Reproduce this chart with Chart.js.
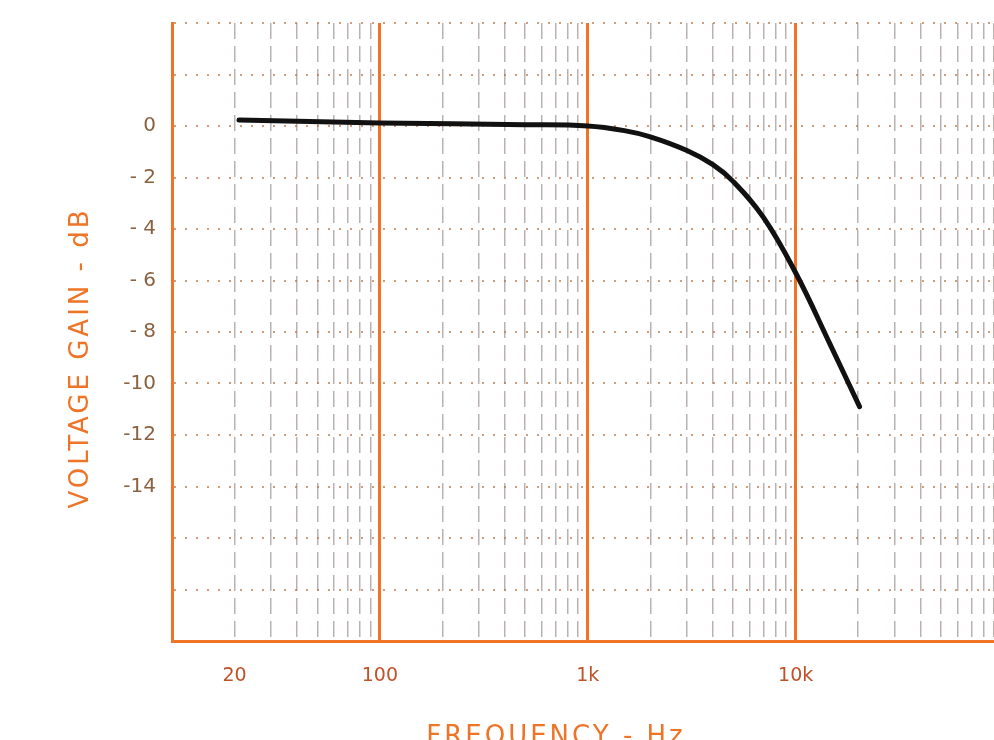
<!DOCTYPE html>
<html>
<head>
	<meta charset="utf-8" />
	<title>Voltage gain vs frequency</title>
	<script src="https://cdn.jsdelivr.net/npm/chart.js@4/dist/chart.umd.min.js"></script>
	<style>
		html, body {
			margin: 0;
			padding: 0;
			background: #fff;
			overflow: hidden;
		}
		#gain {
			display: block;
		}
	</style>
</head>
<body>
	<canvas id="gain" width="994" height="740"></canvas>

	<script>
		// curve
		var freqHz = [21, 100, 500, 1000, 1500, 2000, 3000, 4000, 5000, 7000, 10000, 14500, 20300]
		var gainDb = [0.23, 0.12, 0.05, 0.0, -0.18, -0.42, -0.95, -1.5, -2.15, -3.55, -5.7, -8.4, -10.9]

		// graph paper lines (the paper runs on past the right edge)
		var xGrid = [10, 20, 30, 40, 50, 60, 70, 80, 90,
			100, 200, 300, 400, 500, 600, 700, 800, 900,
			1000, 2000, 3000, 4000, 5000, 6000, 7000, 8000, 9000,
			10000, 20000, 30000, 40000, 50000, 60000, 70000, 80000, 90000]
		var xDecades = [10, 100, 1000, 10000]
		var xTickValues = [20, 100, 1000, 10000]
		var xTickLabels = ['20', '100', '1k', '10k']

		var yGrid = [4, 2, 0, -2, -4, -6, -8, -10, -12, -14, -16, -18, -20]
		var yTickValues = [0, -2, -4, -6, -8, -10, -12, -14]
		var yTickLabels = ['0', '- 2', '- 4', '- 6', '- 8', '-10', '-12', '-14']

		var xTitle = 'FREQUENCY - Hz'
		var yTitle = 'VOLTAGE GAIN - dB'

		var orange = '#ee7428'

		// titles drawn by hand so the letters can be spaced like the print
		var spacedTitles = {
			id: 'spacedTitles',
			afterDraw: function (chart) {
				var ctx = chart.ctx
				var a = chart.chartArea
				ctx.save()
				ctx.fillStyle = orange
				ctx.font = '26px "DejaVu Sans"'
				ctx.letterSpacing = '3px'
				ctx.textAlign = 'center'
				ctx.textBaseline = 'middle'
				ctx.fillText(xTitle, 556, a.bottom + 96)
				ctx.translate(81, 358)
				ctx.rotate(-Math.PI / 2)
				ctx.fillText(yTitle, 0, 0)
				ctx.restore()
			}
		}

		var pts = []
		for (var i = 0; i < freqHz.length; i++) {
			pts.push({ x: freqHz[i], y: gainDb[i] })
		}

		new Chart(document.getElementById('gain'), {
			type: 'line',
			data: {
				datasets: [{
					data: pts,
					borderColor: '#111',
					borderWidth: 5,
					borderCapStyle: 'round',
					pointRadius: 0,
					tension: 0.4,
					fill: false
				}]
			},
			options: {
				responsive: false,
				animation: false,
				layout: { autoPadding: false, padding: { top: 23, right: 0, left: 0, bottom: 0 } },
				plugins: {
					legend: { display: false },
					tooltip: { enabled: false }
				},
				scales: {
					x: {
						type: 'logarithmic',
						min: 10,
						max: 90000,
						afterBuildTicks: function (scale) {
							scale.ticks = xGrid.map(function (v) { return { value: v } })
						},
						afterFit: function (scale) {
							scale.height = 99
							scale.paddingLeft = 0
							scale.paddingRight = 0
						},
						ticks: {
							autoSkip: false,
							maxRotation: 0,
							padding: 24,
							color: '#c0522a',
							font: { family: 'DejaVu Sans', size: 19 },
							callback: function (v) {
								var k = xTickValues.indexOf(v)
								return k >= 0 ? xTickLabels[k] : ''
							}
						},
						grid: {
							drawTicks: false,
							color: function (c) {
								return c.tick && xDecades.indexOf(c.tick.value) >= 0 ? orange : 'rgba(130,115,110,0.55)'
							},
							lineWidth: function (c) {
								return c.tick && xDecades.indexOf(c.tick.value) >= 0 ? 3 : 1.5
							}
						},
						border: {
							display: true,
							color: orange,
							width: 3,
							dash: function (c) {
								return c.tick && xDecades.indexOf(c.tick.value) >= 0 ? [] : [16, 7]
							}
						}
					},
					y: {
						min: -20,
						max: 4,
						afterBuildTicks: function (scale) {
							scale.ticks = yGrid.map(function (v) { return { value: v } })
						},
						afterFit: function (scale) {
							scale.width = 172
							scale.paddingTop = 0
							scale.paddingBottom = 0
						},
						ticks: {
							autoSkip: false,
							padding: 16,
							color: '#8a6240',
							font: { family: 'DejaVu Sans', size: 20 },
							callback: function (v) {
								var k = yTickValues.indexOf(v)
								return k >= 0 ? yTickLabels[k] : ''
							}
						},
						grid: {
							drawTicks: false,
							color: 'rgba(190,115,70,0.7)',
							lineWidth: 2
						},
						border: {
							display: true,
							color: orange,
							width: 3,
							dash: [2, 9]
						}
					}
				}
			},
			plugins: [spacedTitles]
		})
	</script>
</body>
</html>
